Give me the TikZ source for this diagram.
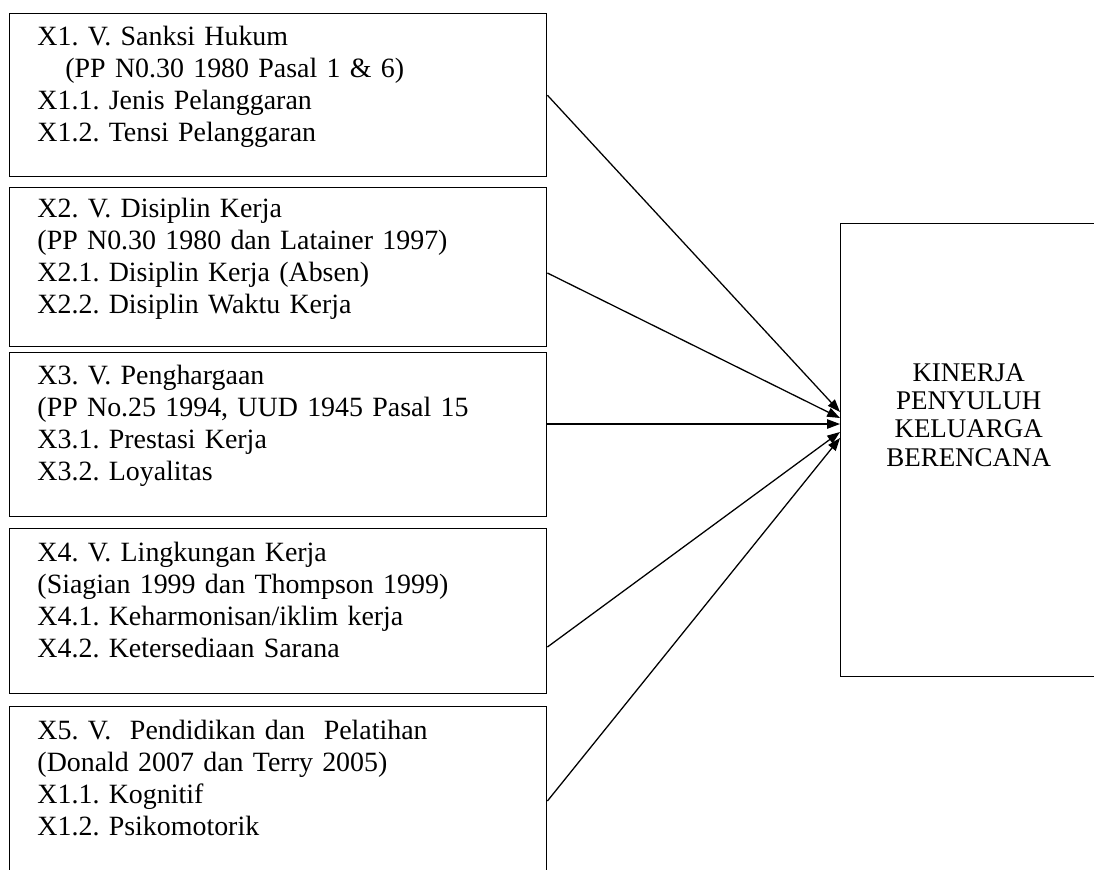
\documentclass[tikz,border=0pt]{standalone}
\usepackage{fontspec}
\setmainfont{Liberation Serif}
\usepackage{tikz}
\usetikzlibrary{arrows.meta}
\frenchspacing

\begin{document}
\begin{tikzpicture}[x=0.43pt,y=-0.43pt]
\tikzstyle{kotak}=[draw, line width=0.6pt, anchor=north west, minimum width=537*0.43pt, text width=207pt, inner xsep=11.6pt, inner ysep=0pt, align=left, font=\fontsize{12}{13.76}\selectfont, execute at end node={\rule[-10pt]{0pt}{10pt}}]
\tikzstyle{hasil}=[draw, line width=0.6pt, anchor=north west, minimum width=256*0.43pt, minimum height=453*0.43pt, align=center, font=\fontsize{11.6}{12.2}\selectfont]
\tikzstyle{panah}=[-{Triangle[length=5.5pt,width=4pt]}, line width=0.55pt]
\useasboundingbox (0,0) rectangle (1094,869);
% variabel bebas
\node[kotak, minimum height=163*0.43pt] (b1) at (9,13) {X1. V. Sanksi Hukum\\ \hspace*{12pt}(PP N0.30 1980 Pasal 1 \& 6)\\ X1.1. Jenis Pelanggaran\\ X1.2. Tensi Pelanggaran};
\node[kotak, minimum height=159*0.43pt] (b2) at (9,187) {X2. V. Disiplin Kerja\\ (PP N0.30 1980 dan Latainer 1997)\\ X2.1. Disiplin Kerja (Absen)\\ X2.2. Disiplin Waktu Kerja};
\node[kotak, minimum height=164*0.43pt] (b3) at (9,352) {X3. V. Penghargaan\\ (PP No.25 1994, UUD 1945 Pasal 15\\ X3.1. Prestasi Kerja\\ X3.2. Loyalitas};
\node[kotak, minimum height=165*0.43pt] (b4) at (9,528) {X4. V. Lingkungan Kerja\\ (Siagian 1999 dan Thompson 1999)\\ X4.1. Keharmonisan/iklim kerja\\ X4.2. Ketersediaan Sarana};
\node[kotak, minimum height=165*0.43pt] (b5) at (9,706) {X5. V.\ \ Pendidikan dan\ \ Pelatihan\\ (Donald 2007 dan Terry 2005)\\ X1.1. Kognitif\\ X1.2. Psikomotorik};
% variabel terikat
\node[hasil] (kpkb) at (840,223) {KINERJA\\ PENYULUH\\ KELUARGA\\ BERENCANA\rule[-30.5pt]{0pt}{30.5pt}};
\draw[panah] (b1.east) -- (kpkb.west |- 0,412);
\draw[panah] (b2.east |- 0,273) -- (kpkb.west |- 0,418);
\draw[panah] (b3.east |- 0,424) -- (kpkb.west |- 0,424);
\draw[panah] (b4.east |- 0,647) -- (kpkb.west |- 0,432);
\draw[panah] (b5.east |- 0,801) -- (kpkb.west |- 0,438);
\end{tikzpicture}
\end{document}
